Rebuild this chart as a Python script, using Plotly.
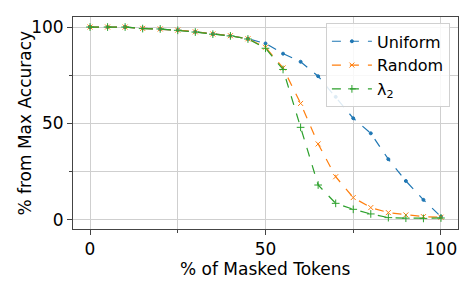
import plotly.graph_objects as go

masked = [0, 5, 10, 15, 20, 25, 30, 35, 40, 45, 50, 55, 60, 65, 70, 75, 80, 85, 90, 95, 100]
uniform = [100, 100, 100, 99.3, 99, 98.4, 97.5, 96.4, 95.5, 93.9, 91.5, 86.2, 82, 74.5, 63.8, 52.7, 44.9, 31.5, 20.2, 10.4, 1.7]
random_ = [100, 100, 100, 99.3, 99, 98.4, 97.5, 96.4, 95.5, 93.9, 89.5, 78.8, 60.4, 39.4, 22.4, 11.6, 6.4, 3.8, 2.6, 1.7, 1.4]
lambda2 = [100, 100, 100, 99.2, 99, 98.3, 97.4, 96.3, 95.4, 93.8, 89.0, 78.0, 48.0, 18.1, 8.6, 5.5, 3.1, 1.2, 0.9, 0.8, 1.0]

names = ["Uniform", "Random", "λ<sub>2</sub>"]
colors = ["#1f77b4", "#ff7f0e", "#2ca02c"]
symbols = ["circle", "x-thin", "cross-thin"]
sizes = [3, 5, 5.5]

fig = go.Figure()
for ys, nm, c, s, sz in zip([uniform, random_, lambda2], names, colors, symbols, sizes):
    fig.add_trace(go.Scatter(
        x=masked, y=ys, name=nm, mode="lines+markers",
        line=dict(color=c, width=1.2, dash="dash"),
        marker=dict(symbol=s, size=sz, color=c, line=dict(color=c, width=1)),
    ))

axis_common = dict(
    showline=True, linecolor="#444", linewidth=1, mirror=True,
    ticks="outside", ticklen=5, tickcolor="#444", tickwidth=1,
    showgrid=True, gridcolor="#cfcfcf", gridwidth=1, zeroline=False,
    tickfont=dict(size=17, color="black", family="DejaVu Sans"),
    minor=dict(dtick=25, ticks="outside", ticklen=3, tickcolor="#444",
               showgrid=True, gridcolor="#cfcfcf", gridwidth=1),
)

fig.update_layout(
    width=468, height=278,
    margin=dict(l=65, r=18, t=9, b=57),
    paper_bgcolor="white", plot_bgcolor="white",
    font=dict(family="DejaVu Sans", size=17, color="black"),
    xaxis=dict(range=[-4.85, 104.85], tickvals=[0, 50, 100], **axis_common),
    yaxis=dict(range=[-4.7, 105.2], tickvals=[0, 50, 100], **axis_common),
    legend=dict(x=0.979, y=0.97, xanchor="right", yanchor="top",
                bgcolor="rgba(255,255,255,0.85)", bordercolor="#d0d0d0", borderwidth=1,
                font=dict(size=16), itemwidth=40, tracegroupgap=0),
    showlegend=True,
    annotations=[
        dict(text="% of Masked Tokens", xref="paper", yref="paper", x=0.5, y=-0.19,
             xanchor="center", yanchor="middle", showarrow=False, font=dict(size=17),
             borderpad=0),
        dict(text="% from Max Accuracy", xref="paper", yref="paper", x=-0.1247, y=0.502,
             xanchor="center", yanchor="middle", showarrow=False, textangle=-90,
             font=dict(size=17), borderpad=0),
    ],
)

fig.write_html("out.html")
